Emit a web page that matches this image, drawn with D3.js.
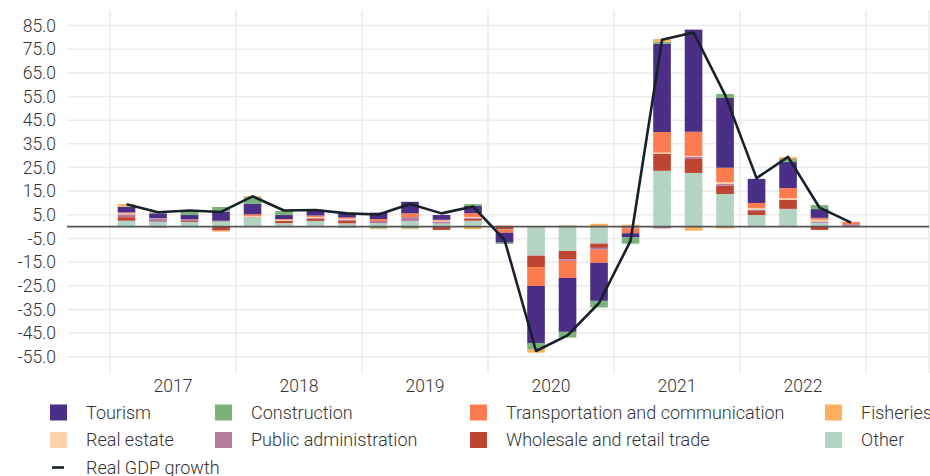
<!DOCTYPE html>
<html>
<head>
<meta charset="utf-8">
<script src="https://cdn.jsdelivr.net/npm/d3@7"></script>
<style>
  body { margin: 0; background: #fff; }
  text { font-family: Roboto, "Noto Sans", sans-serif; font-weight: 300; fill: #333; }
</style>
</head>
<body>
<svg id="chart" width="930" height="476"></svg>
<script>
// quarters 2017Q1 .. 2022Q4
var quarters = [];
[2017, 2018, 2019, 2020, 2021, 2022].forEach(function (y) {
    [1, 2, 3, 4].forEach(function (q) { quarters.push(y + "Q" + q); });
});
var years = [2017, 2018, 2019, 2020, 2021, 2022];

// contributions, percentage points
var tourism        = [2.3, 2.1, 1.7, 3.8,  4.4, 1.7, 2.0, 1.7,  2.7, 4.9, 2.0, 3.0,  -4.2, -24.1, -22.8, -16.1,  -1.8, 37.4, 43.2, 29.5,  10.2, 11.0, 3.7, 0];
var construction   = [0.2, 0.3, 1.7, 2.0,  2.8, 1.7, 0.3, -0.5, -0.8, -0.8, 0, 0.8,  -0.5, -2.8, -2.4, -2.8,  -2.6, 0.8, 0, 1.7,  0, 1.3, 1.7, 0];
var transportation = [0.4, 0, 0, 0,  0.7, 0.3, 0.6, 0.6,  0.8, 1.6, 0.4, 1.6,  -1.3, -8.0, -7.2, -5.5,  -2.0, 8.7, 10.2, 6.1,  2.1, 4.2, 0.8, 1.0];
var fisheries      = [1.0, 0.5, 0, -0.4,  0.5, 0, 0, 0.4,  -0.3, -0.3, 0, -1.1,  0, -1.3, 0.5, 1.2,  0.5, 1.1, -1.7, -0.8,  0, 0.8, 0, 0];
var realEstate     = [0.4, 0.2, 0, 0,  0.5, 0.4, 0.4, 0.4,  0, 0, 0.4, 0.4,  0.4, 0.3, 0, 0,  0.3, 0.5, 0.3, 0.8,  0.7, 0.7, 0.7, 0];
var publicAdmin    = [1.2, 1.3, 0.8, 0.4,  0.2, 0, 0.3, 0.5,  1.0, 1.6, 0.8, 0.4,  -0.2, 0, -0.7, -0.8,  -0.4, -0.8, 1.0, 0.7,  0.6, 0, 0.6, 1.0];
var wholesale      = [1.5, -0.3, 0.4, -1.7,  0, 1.0, 1.0, 1.0,  0, 0, -1.4, 0.8,  -1.1, -4.8, -3.5, -1.8,  -0.4, 7.2, 5.9, 3.5,  1.7, 3.9, -1.4, -0.2];
var other          = [2.5, 2.0, 2.0, 2.1,  3.8, 1.5, 2.4, 1.4,  1.4, 2.4, 1.3, 2.5,  0.3, -12.3, -10.3, -7.2,  0, 23.6, 22.7, 13.8,  4.9, 7.5, 1.6, 0];
var gdpGrowth      = [9.5, 6.1, 6.8, 6.2,  12.8, 6.8, 7.0, 5.6,  5.1, 9.6, 5.6, 8.5,  -5.6, -52.6, -46.0, -32.3,  -6.0, 79.0, 82.1, 55.7,  20.5, 29.5, 8.0, 1.7];

var yTicks = [-55, -45, -35, -25, -15, -5, 5, 15, 25, 35, 45, 55, 65, 75, 85];

var sectors = [
    {key: "tourism", label: "Tourism", color: "#4b2f86", values: tourism},
    {key: "construction", label: "Construction", color: "#7bb27a", values: construction},
    {key: "transportation", label: "Transportation and communication", color: "#fc7c4f", values: transportation},
    {key: "fisheries", label: "Fisheries", color: "#fdb05b", values: fisheries},
    {key: "realEstate", label: "Real estate", color: "#fed1ad", values: realEstate},
    {key: "publicAdmin", label: "Public administration", color: "#b67a9d", values: publicAdmin},
    {key: "wholesale", label: "Wholesale and retail trade", color: "#bf4533", values: wholesale},
    {key: "other", label: "Other", color: "#b3d4c3", values: other}
];
// bottom-up order of the stack
var stackKeys = ["other", "wholesale", "publicAdmin", "realEstate", "transportation", "tourism", "construction", "fisheries"];
var colorOf = {};
sectors.forEach(function (s) { colorOf[s.key] = s.color; });

var rows = quarters.map(function (q, i) {
    var r = {quarter: q};
    sectors.forEach(function (s) { r[s.key] = s.values[i]; });
    return r;
});

var svg = d3.select("#chart");
var plotLeft = 67, plotRight = 929, plotTop = 10, plotBottom = 373;
var fontSize = "17.5px";

var xYear = d3.scaleLinear().domain([2016.659, 2023.5]).range([plotLeft, plotRight]);
var x = d3.scaleBand().domain(quarters)
    .range([xYear(2017) + 0.8, xYear(2023) + 0.8])
    .paddingInner(0.44).paddingOuter(0.22);
var y = d3.scaleLinear().domain([-61.9, 91.6]).range([plotBottom, plotTop]);

// grid
svg.append("g").selectAll("line").data(yTicks).enter().append("line")
    .attr("x1", plotLeft).attr("x2", plotRight)
    .attr("y1", function (d) { return y(d); }).attr("y2", function (d) { return y(d); })
    .attr("stroke", "#ebebeb").attr("stroke-width", 1.5);
svg.append("g").selectAll("line").data(d3.range(2017, 2024).concat([2023.5])).enter().append("line")
    .attr("x1", function (d) { return xYear(d); }).attr("x2", function (d) { return xYear(d); })
    .attr("y1", plotTop).attr("y2", plotBottom)
    .attr("stroke", "#ebebeb").attr("stroke-width", 1.5);

// y labels
svg.append("g").selectAll("text").data(yTicks).enter().append("text")
    .attr("x", 56).attr("y", function (d) { return y(d); })
    .attr("dy", "0.35em").attr("text-anchor", "end")
    .style("font-size", fontSize)
    .text(function (d) { return d.toFixed(1); });

// year labels
svg.append("g").selectAll("text").data(years).enter().append("text")
    .attr("x", function (d) { return xYear(d + 0.5); }).attr("y", 386)
    .attr("dy", "0.35em").attr("text-anchor", "middle")
    .style("font-size", fontSize)
    .text(function (d) { return d; });

// stacked bars
var series = d3.stack().keys(stackKeys).offset(d3.stackOffsetDiverging)(rows);
svg.append("g").selectAll("g").data(series).enter().append("g")
    .attr("fill", function (s) { return colorOf[s.key]; })
    .selectAll("rect").data(function (s) { return s; }).enter().append("rect")
    .attr("x", function (d) { return x(d.data.quarter); })
    .attr("width", x.bandwidth())
    .attr("y", function (d) { return y(Math.max(d[0], d[1])); })
    .attr("height", function (d) { return Math.abs(y(d[0]) - y(d[1])); });

// zero line
svg.append("line")
    .attr("x1", plotLeft).attr("x2", plotRight).attr("y1", y(0)).attr("y2", y(0))
    .attr("stroke", "#555").attr("stroke-width", 1.8);

// GDP line
var line = d3.line()
    .x(function (d, i) { return x(quarters[i]) + x.bandwidth() / 2; })
    .y(function (d) { return y(d); });
svg.append("path").datum(gdpGrowth)
    .attr("d", line).attr("fill", "none")
    .attr("stroke", "#17212b").attr("stroke-width", 2.6)
    .attr("stroke-linejoin", "round");

// legend
var legendCols = [50, 215, 470, 825];
var legendRows = [412.5, 440];
var legend = svg.append("g");
sectors.forEach(function (s, i) {
    var lx = legendCols[i % 4], ly = legendRows[Math.floor(i / 4)];
    legend.append("rect").attr("x", lx).attr("y", ly - 8).attr("width", 17).attr("height", 16)
        .attr("fill", s.color);
    legend.append("text").attr("x", lx + 36).attr("y", ly).attr("dy", "0.35em")
        .style("font-size", "18px").text(s.label);
});
legend.append("line").attr("x1", 52).attr("x2", 64).attr("y1", 467.5).attr("y2", 467.5)
    .attr("stroke", "#17212b").attr("stroke-width", 2.6);
legend.append("text").attr("x", 86).attr("y", 467.5).attr("dy", "0.35em")
    .style("font-size", "18px").text("Real GDP growth");
</script>
</body>
</html>
